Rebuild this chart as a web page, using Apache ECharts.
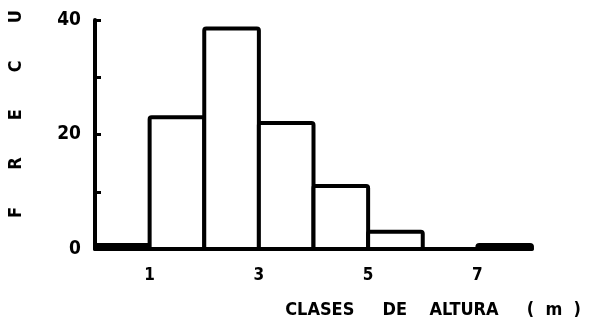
<!DOCTYPE html>
<html>
<head>
<meta charset="utf-8">
<script src="https://cdn.jsdelivr.net/npm/echarts@6/dist/echarts.min.js"></script>
<style>html,body{margin:0;padding:0;background:#fff}#c{width:591px;height:326px}</style>
</head>
<body>
<div id="c"></div>
<script>
// Height class bin edges (m) and frequencies
const binStarts = [0, 1, 2, 3, 4, 5, 6, 7];
const binEnds   = [1, 2, 3, 4, 5, 6, 7, 8];
const frequencies = [0.7, 23, 38.5, 22, 11, 3, 0, 0.7];
const xTickLabels = ['1', '3', '5', '7'];
const yTickLabels = ['0', '20', '40'];
const yAxisTitle = 'F R E C U';
const xAxisTitle = 'CLASES DE ALTURA ( m )';

const FONT = 'DejaVu Sans Condensed';
const chart = echarts.init(document.getElementById('c'), null, {renderer: 'canvas'});

const data = binStarts.map((s, i) => [s, binEnds[i], frequencies[i]]).filter(d => d[2] > 0);
const S = n => ' '.repeat(n);
const xTitleText = xAxisTitle.split(' ');
const xTitleSpaced = xTitleText[0] + S(5) + xTitleText[1] + S(4) + xTitleText[2] + S(5) +
                     xTitleText[3] + S(2) + xTitleText[4] + S(2) + xTitleText[5];

chart.setOption({
  animation: false,
  backgroundColor: '#fff',
  grid: {left: 95, right: 59, top: 20, bottom: 77, containLabel: false},
  xAxis: {
    type: 'value', min: 0, max: 8, interval: 1,
    axisLine: {show: true, lineStyle: {color: '#000', width: 4}},
    axisTick: {show: false},
    splitLine: {show: false},
    axisLabel: {
      margin: 18, color: '#000', fontFamily: FONT, fontWeight: 'bold', fontSize: 17,
      formatter: v => xTickLabels.includes(String(v)) ? String(v) : ''
    }
  },
  yAxis: {
    type: 'value', min: 0, max: 40, interval: 10,
    axisLine: {show: true, lineStyle: {color: '#000', width: 4}},
    axisTick: {show: true, inside: true, length: 6, lineStyle: {color: '#000', width: 3}},
    splitLine: {show: false},
    axisLabel: {
      margin: 14, color: '#000', fontFamily: FONT, fontWeight: 'bold', fontSize: 19,
      formatter: v => yTickLabels.includes(String(v)) ? String(v) : ''
    }
  },
  graphic: [
    {type: 'text', x: 16, y: 114, rotation: Math.PI / 2,
     style: {text: yAxisTitle.split(' ').join(S(6) + '\u2009'), fill: '#000', font: 'bold 18px "' + FONT + '"',
             align: 'center', verticalAlign: 'middle'}},
    {type: 'text', x: 581, y: 310,
     style: {text: xTitleSpaced, fill: '#000', font: 'bold 18px "' + FONT + '"',
             align: 'right', verticalAlign: 'middle'}}
  ],
  series: [{
    type: 'custom',
    data: data,
    encode: {x: [0, 1], y: 2},
    renderItem: function (params, api) {
      const p0 = api.coord([api.value(0), 0]);
      const p1 = api.coord([api.value(1), api.value(2)]);
      return {
        type: 'rect',
        shape: {x: p0[0], y: p1[1], width: p1[0] - p0[0], height: p0[1] - p1[1], r: 2},
        style: {fill: '#fff', stroke: '#000', lineWidth: 4}
      };
    }
  }]
});
</script>
</body>
</html>
